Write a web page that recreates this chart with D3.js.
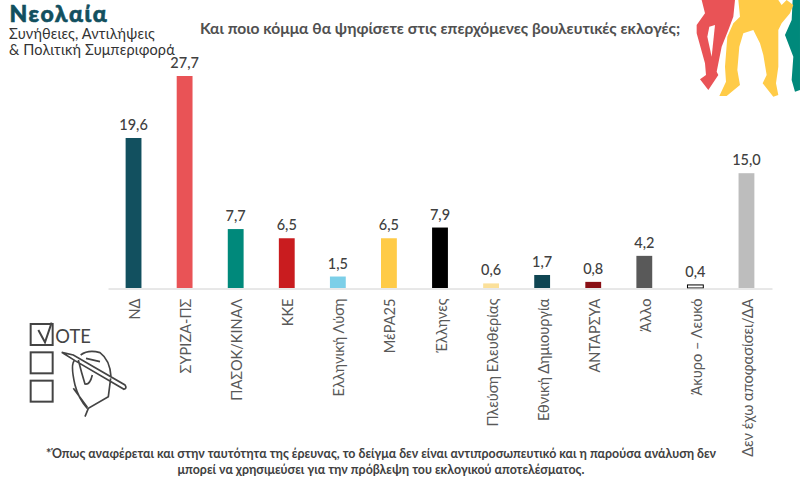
<!DOCTYPE html>
<html><head><meta charset="utf-8">
<script src="https://cdn.jsdelivr.net/npm/d3@7/dist/d3.min.js"></script>
<style>html,body{margin:0;background:#fff}svg{display:block;font-family:Lato,"Open Sans",sans-serif}</style>
</head><body><svg id="c" width="800" height="479"></svg>
<script>
const categories=["ΝΔ","ΣΥΡΙΖΑ-ΠΣ","ΠΑΣΟΚ/ΚΙΝΑΛ","ΚΚΕ","Ελληνική Λύση","ΜέΡΑ25","Έλληνες","Πλεύση Ελευθερίας","Εθνική Δημιουργία","ΑΝΤΑΡΣΥΑ","Άλλο","Άκυρο – Λευκό","Δεν έχω αποφασίσει/ΔΑ"];
const values=[19.6,27.7,7.7,6.5,1.5,6.5,7.9,0.6,1.7,0.8,4.2,0.4,15.0];
const colors=["#12505f","#e95356","#00897b","#c91c1f","#7ccfe8","#ffcb47","#000000","#fbe09a","#0f4552","#8a1015","#595959","#ffffff","#bdbdbd"];
const title="Νεολαία";
const subtitle=["Συνήθειες, Αντιλήψεις","& Πολιτική Συμπεριφορά"];
const question="Και ποιο κόμμα θα ψηφίσετε στις επερχόμενες βουλευτικές εκλογές;";
const footnote=["*Όπως αναφέρεται και στην ταυτότητα της έρευνας, το δείγμα δεν είναι αντιπροσωπευτικό και η παρούσα ανάλυση δεν","μπορεί να χρησιμεύσει για την πρόβλεψη του εκλογικού αποτελέσματος."];

const svg=d3.select("#c");
const x=d3.scaleBand().domain(categories).range([108,772]).paddingInner(0.69).paddingOuter(0.345);
const y=d3.scaleLinear().domain([0,27.7]).range([288,76]);
const fmt=v=>v.toFixed(1).replace(".",",");

// decorative silhouettes (zoomed-crop units)
const deco=svg.append("g").attr("transform","translate(650,0) scale(0.3333)");
const line=d3.line().curve(d3.curveLinearClosed);
deco.append("path").attr("fill","#e95356").attr("d",line([[155,0],[255,0],[250,50],[235,90],[215,140],[200,215],[205,225],[175,270],[150,238],[168,225],[165,190],[140,100],[140,75],[165,40]]));
deco.append("path").attr("fill","#fff").attr("d",line([[178,80],[195,75],[185,170],[172,110]]));
deco.append("path").attr("fill","#00897b").attr("d",line([[428,0],[450,0],[450,270],[435,275],[425,240],[430,170],[405,105],[425,60]]));
deco.append("path").attr("fill","#ffcb47").attr("d",line([[265,0],[385,0],[395,15],[410,0],[430,15],[420,40],[395,70],[385,90],[385,200],[378,250],[385,285],[370,290],[338,250],[350,225],[340,165],[330,130],[310,90],[280,100],[268,140],[262,210],[270,255],[230,288],[208,288],[228,245],[225,200],[232,110],[250,70],[270,50]]));

// headings
svg.append("text").attr("x",9.5).attr("y",22.2).attr("font-size",23).attr("letter-spacing",1.6).attr("font-weight",900).attr("fill","#12505f").attr("stroke","#12505f").attr("stroke-width",0.6).text(title);
svg.selectAll(".sub").data(subtitle).join("text").attr("class","sub").attr("x",9).attr("y",(d,i)=>39+i*16).attr("font-size",14.5).attr("letter-spacing",0.15).attr("fill","#333").text(d=>d);
svg.append("text").attr("x",440).attr("y",34).attr("text-anchor","middle").attr("font-size",15.6).attr("font-weight",700).attr("fill","#505050").text(question);

// bars
svg.selectAll(".bar").data(values).join("rect").attr("class","bar")
 .attr("x",(d,i)=>x(categories[i])).attr("width",x.bandwidth())
 .attr("y",d=>y(d)).attr("height",d=>y(0)-y(d))
 .attr("fill",(d,i)=>colors[i])
 .attr("stroke",(d,i)=>colors[i]==="#ffffff"?"#000":"none").attr("stroke-width",1);
svg.selectAll(".val").data(values).join("text").attr("class","val")
 .attr("x",(d,i)=>x(categories[i])+x.bandwidth()/2).attr("y",d=>y(d)-8)
 .attr("text-anchor","middle").attr("font-size",14.5).attr("font-weight",500).attr("fill","#404040").text(fmt);

// axis
const ax=svg.append("g").attr("transform","translate(0,288.5)").call(d3.axisBottom(x).tickSize(0).tickPadding(0));
ax.select(".domain").attr("stroke","#d0d0d0").attr("stroke-width",1);
ax.selectAll("text").attr("font-family","Lato,'Open Sans',sans-serif").attr("font-size",14.6).attr("fill","#595959")
 .attr("text-anchor","end").attr("dy",null).attr("y",0).attr("x",0)
 .attr("transform","translate(6.5,10) rotate(-90)");

// footnote
svg.selectAll(".fn").data(footnote).join("text").attr("class","fn").attr("x",381).attr("y",(d,i)=>458+i*16)
 .attr("text-anchor","middle").attr("font-size",12.4).attr("font-weight",700).attr("fill","#404040").text(d=>d);

// vote icon (zoomed-crop units)
const ic=svg.append("g").attr("transform","translate(10,310) scale(0.3333)").attr("fill","none").attr("stroke","#444").attr("stroke-width",6);
[42,127,212].forEach(t=>ic.append("rect").attr("x",62).attr("y",t).attr("width",66).attr("height",63));
ic.append("path").attr("d","M85 60L105 97L125 38");
ic.append("text").attr("x",136).attr("y",98).attr("font-size",55).attr("fill","#444").attr("stroke","none").text("OTE");
ic.append("path").attr("stroke-width",5).attr("d","M155 127L190 135L345 225Q352 235 342 238L195 152L155 127M195 150Q180 160 195 225Q205 265 232 295M212 135Q235 118 270 128Q300 150 303 200M205 150Q215 190 225 222Q240 225 247 195M228 145L270 155M302 205L295 260L235 295L225 320M190 235L232 292");
</script></body></html>
